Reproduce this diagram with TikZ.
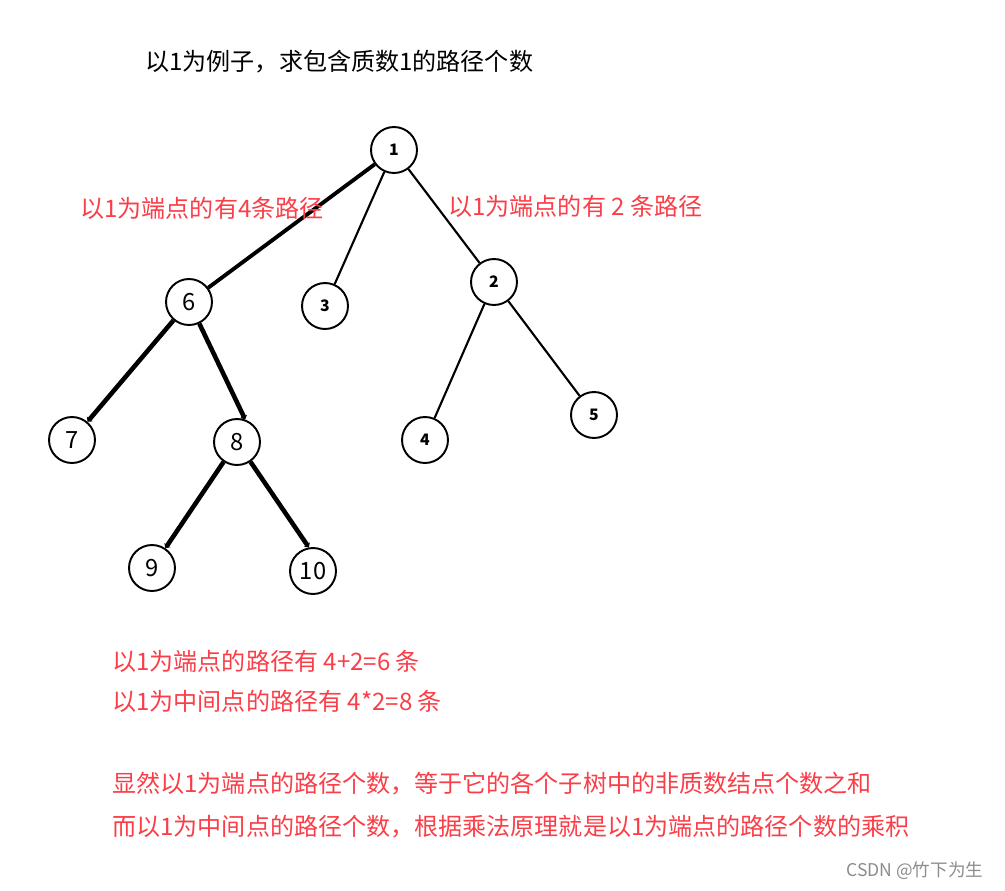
\documentclass[tikz,border=0pt]{standalone}
\usepackage{fontspec}
\setmainfont{Noto Sans CJK SC}
\usetikzlibrary{arrows.meta}
\definecolor{hong}{RGB}{250,62,72}
\begin{document}
\begin{tikzpicture}[x=0.02cm,y=-0.02cm,
  dian/.style={circle,draw,line width=1.1pt,minimum size=0.92cm,inner sep=0pt},
  xiao/.style={font=\bfseries\fontsize{9}{10}\selectfont},
  da/.style={font=\fontsize{13.5}{14}\selectfont},
  bian/.style={line width=1.2pt},
  cu/.style={line width=2.6pt,-{Triangle[width=4pt,length=2pt]}},
  wenzi/.style={anchor=west,inner sep=0pt,font=\fontsize{13.7}{15}\selectfont},
  hongzi/.style={wenzi,text=hong}]
  \useasboundingbox (0,0) rectangle (1005,890);
  % tree nodes
  \node[dian,xiao] (n1) at (394,150) {1};
  \node[dian,da] (n6) at (189,302) {6};
  \node[dian,xiao] (n3) at (325,306) {3};
  \node[dian,xiao] (n2) at (494,282) {2};
  \node[dian,da] (n7) at (72,440) {7};
  \node[dian,da] (n8) at (237,442) {8};
  \node[dian,xiao] (n4) at (425,440) {4};
  \node[dian,xiao] (n5) at (594,415) {5};
  \node[dian,da] (n9) at (152,568) {9};
  \node[dian,da] (n10) at (313,571) {10};
  % edges
  \draw[line width=2.2pt] (n1) -- (n6);
  \draw[bian] (n1) -- (n3);
  \draw[bian] (n1) -- (n2);
  \draw[bian] (n2) -- (n4);
  \draw[bian] (n2) -- (n5);
  \draw[cu] (n6) -- (n7);
  \draw[cu] (n6) -- (n8.70);
  \draw[cu] (n8) -- (n9);
  \draw[cu] (n8) -- (n10.100);
  % texts
  \node[wenzi] (biaoti) at (145,62) {以1为例子，求包含质数1的路径个数};
  \node[hongzi] (zuo) at (80,208) {以1为端点的有4条路径};
  \node[hongzi] (you) at (448,206) {以1为端点的有 2 条路径};
  \node[hongzi] (h1) at (112,661) {以1为端点的路径有 4+2=6 条};
  \node[hongzi] (h2) at (112,701) {以1为中间点的路径有 4*2=8 条};
  \node[hongzi] (h3) at (112,784) {显然以1为端点的路径个数，等于它的各个子树中的非质数结点个数之和};
  \node[hongzi] (h4) at (112,827) {而以1为中间点的路径个数，根据乘法原理就是以1为端点的路径个数的乘积};
  \node[anchor=west,inner sep=0pt,text=black!45,font=\fontsize{10}{11}\selectfont] (shuiyin) at (846,871) {CSDN @竹下为生};
\end{tikzpicture}
\end{document}
